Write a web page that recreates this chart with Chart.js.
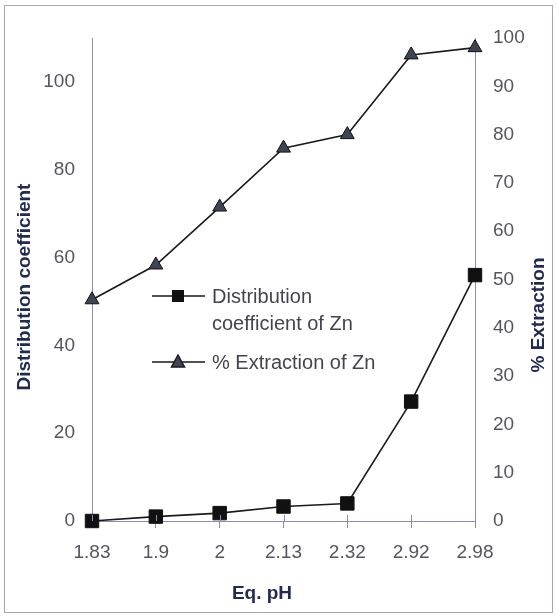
<!DOCTYPE html>
<html>
<head>
<meta charset="utf-8">
<script src="https://cdn.jsdelivr.net/npm/chart.js@4.4.0/dist/chart.umd.min.js"></script>
<style>
  body { margin: 0; background: #fff; }
  canvas { display: block; }
</style>
</head>
<body>
<canvas id="zn" width="556" height="616"></canvas>
<script>
// values
var phLabels = ['1.83', '1.9', '2', '2.13', '2.32', '2.92', '2.98'];
var distCoeff = [0, 1.0, 1.8, 3.3, 4.0, 27.2, 56];
var extraction = [45.8, 53, 65, 77.2, 80, 96.5, 98];

var axisColor = '#8c8cab';
var tickColor = '#555560';
var titleColor = '#232a52';
var font = 'Liberation Sans, Arial, sans-serif';

// titles, legend and frame are drawn by hand (right title reads bottom-to-top)
var extras = {
    id: 'extras',
    afterDraw: function (chart) {
        var c = chart.ctx;
        c.save();
        c.strokeStyle = '#a3a7ba';
        c.lineWidth = 1;
        c.strokeRect(4.5, 5.5, 548, 607);

        // x tick marks cross the axis in the original
        var xs = chart.scales.x, bottom = chart.chartArea.bottom;
        c.strokeStyle = axisColor;
        c.beginPath();
        for (var i = 0; i < phLabels.length; i++) {
            var px = Math.round(xs.getPixelForValue(i)) + 0.5;
            c.moveTo(px, bottom - 6);
            c.lineTo(px, bottom);
        }
        c.stroke();

        c.fillStyle = titleColor;
        c.font = 'bold 19px ' + font;
        c.textAlign = 'center';
        c.textBaseline = 'middle';
        c.fillText('Eq. pH', 262, 594);

        c.save();
        c.translate(25, 287);
        c.rotate(-Math.PI / 2);
        c.fillText('Distribution coefficient', 0, 0);
        c.restore();

        c.save();
        c.translate(539, 315);
        c.rotate(-Math.PI / 2);
        c.fillText('% Extraction', 0, 0);
        c.restore();

        // legend
        c.strokeStyle = '#1a1a1a';
        c.lineWidth = 1.5;
        c.beginPath();
        c.moveTo(152, 296); c.lineTo(205, 296);
        c.moveTo(152, 362); c.lineTo(205, 362);
        c.stroke();
        c.fillStyle = '#111';
        c.fillRect(172, 290, 12, 12);
        c.fillStyle = '#3d4454';
        c.beginPath();
        c.moveTo(178, 355); c.lineTo(184.5, 367); c.lineTo(171.5, 367);
        c.closePath();
        c.fill();
        c.stroke();

        c.fillStyle = '#444450';
        c.font = '20px ' + font;
        c.textAlign = 'left';
        c.fillText('Distribution', 212, 297);
        c.fillText('coefficient of Zn', 212, 324);
        c.fillText('% Extraction of Zn', 212, 363);
        c.restore();
    }
};

var ctx = document.getElementById('zn').getContext('2d');
var znChart = new Chart(ctx, {
    type: 'line',
    data: {
        labels: phLabels,
        datasets: [{
            label: 'Distribution coefficient of Zn',
            data: distCoeff,
            yAxisID: 'y',
            clip: false,
            borderColor: '#1a1a1a',
            borderWidth: 1.6,
            pointStyle: 'rect',
            pointRadius: 9.5,
            pointBackgroundColor: '#111',
            pointBorderColor: '#111',
            pointBorderWidth: 1
        }, {
            label: '% Extraction of Zn',
            data: extraction,
            yAxisID: 'y1',
            clip: false,
            borderColor: '#1a1a1a',
            borderWidth: 1.6,
            pointStyle: 'triangle',
            pointRadius: 8,
            pointBackgroundColor: '#3d4454',
            pointBorderColor: '#111',
            pointBorderWidth: 1
        }]
    },
    options: {
        responsive: false,
        animation: false,
        layout: { padding: { top: 38 } },
        plugins: {
            legend: { display: false },
            tooltip: { enabled: false }
        },
        scales: {
            x: {
                offset: false,
                grid: { drawOnChartArea: false, tickLength: 7, color: axisColor },
                border: { color: axisColor, width: 1 },
                ticks: { color: tickColor, font: { family: font, size: 19 }, padding: 13, maxRotation: 0 },
                afterFit: function (s) { s.height = 95; }
            },
            y: {
                position: 'left',
                min: 0,
                max: 110,
                grid: { drawOnChartArea: false, drawTicks: false },
                border: { color: axisColor, width: 1 },
                ticks: { stepSize: 20, includeBounds: false, color: tickColor, font: { family: font, size: 19 }, padding: 17 },
                afterFit: function (s) { s.width = 92; }
            },
            y1: {
                position: 'right',
                min: 0,
                max: 100,
                grid: { drawOnChartArea: false, drawTicks: false },
                border: { color: axisColor, width: 1 },
                ticks: { stepSize: 10, color: tickColor, font: { family: font, size: 19 }, padding: 18 },
                afterFit: function (s) { s.width = 81; }
            }
        }
    },
    plugins: [extras]
});
</script>
</body>
</html>
